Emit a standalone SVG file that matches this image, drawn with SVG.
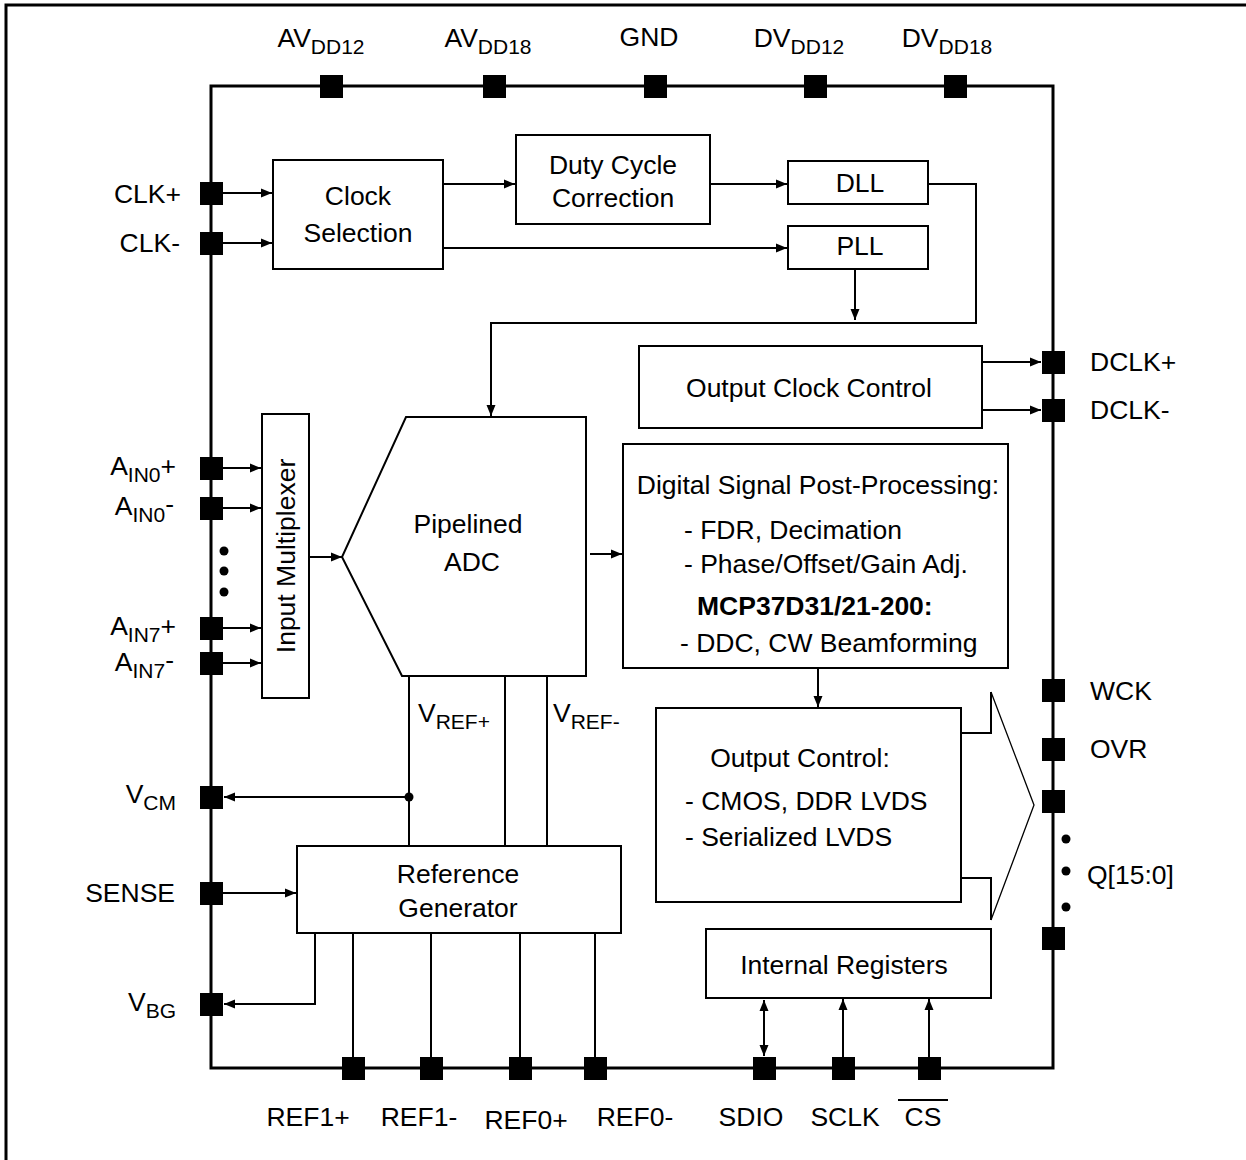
<svg xmlns="http://www.w3.org/2000/svg" width="1246" height="1160" viewBox="0 0 1246 1160">
<style>
text{font-family:"Liberation Sans",Arial,sans-serif;font-size:26.5px;fill:#000}
.sub{font-size:21px}
.box{fill:#fff;stroke:#000;stroke-width:2}
.ln{fill:none;stroke:#000;stroke-width:2}
.thin{fill:none;stroke:#000;stroke-width:1.3}
.pin{fill:#000}
.c{text-anchor:middle}
.e{text-anchor:end}
</style>
<defs>
<marker id="ah" viewBox="0 0 11 10" refX="11" refY="5" markerWidth="11" markerHeight="10" markerUnits="userSpaceOnUse" orient="auto-start-reverse">
<path d="M0,0.5 L11,5 L0,9.5 Z" fill="#000"/>
</marker>
</defs>
<rect width="1246" height="1160" fill="#fff"/>
<g id="frame">
<path d="M6,1160 V5 H1246" fill="none" stroke="#000" stroke-width="3"/>
</g>
<g id="chip">
<rect x="211" y="86" width="842" height="982" fill="none" stroke="#000" stroke-width="3"/>
</g>
<g id="connectors">
<path class="ln" d="M223,193 H272" marker-end="url(#ah)"/>
<path class="ln" d="M223,243 H272" marker-end="url(#ah)"/>
<path class="ln" d="M443,184 H515" marker-end="url(#ah)"/>
<path class="ln" d="M443,248 H787" marker-end="url(#ah)"/>
<path class="ln" d="M710,184 H787" marker-end="url(#ah)"/>
<path class="ln" d="M928,184 H976 V323 H491 V416" marker-end="url(#ah)"/>
<path class="ln" d="M855,269 V320" marker-end="url(#ah)"/>
<path class="ln" d="M982,362 H1041" marker-end="url(#ah)"/>
<path class="ln" d="M982,410 H1041" marker-end="url(#ah)"/>
<path class="ln" d="M223,468 H261" marker-end="url(#ah)"/>
<path class="ln" d="M223,508 H261" marker-end="url(#ah)"/>
<path class="ln" d="M223,628 H261" marker-end="url(#ah)"/>
<path class="ln" d="M223,663 H261" marker-end="url(#ah)"/>
<path class="ln" d="M309,557 H342" marker-end="url(#ah)"/>
<path class="ln" d="M590,554 H622" marker-end="url(#ah)"/>
<path class="ln" d="M818,668 V707" marker-end="url(#ah)"/>
<path class="ln" d="M409,677 V846"/>
<path class="ln" d="M505,677 V846"/>
<path class="ln" d="M547,677 V846"/>
<path class="ln" d="M409,797 H224" marker-end="url(#ah)"/>
<circle cx="409" cy="797" r="4.5" fill="#000"/>
<path class="ln" d="M223,893 H296" marker-end="url(#ah)"/>
<path class="ln" d="M315,933 V1004 H224" marker-end="url(#ah)"/>
<path class="ln" d="M353,933 V1068"/>
<path class="ln" d="M431,933 V1068"/>
<path class="ln" d="M520,933 V1068"/>
<path class="ln" d="M595,933 V1068"/>
<path class="ln" d="M764,1000 V1056" marker-start="url(#ah)" marker-end="url(#ah)"/>
<path class="ln" d="M843,1057 V999" marker-end="url(#ah)"/>
<path class="ln" d="M929,1057 V999" marker-end="url(#ah)"/>
<path class="ln" d="M961,733 H991 V692"/>
<path class="thin" d="M991,692 L1034,805 L991,920"/>
<path class="ln" d="M991,920 V878 H961"/>
</g>
<g id="pins">
<rect class="pin" x="320" y="75" width="23" height="23"/>
<rect class="pin" x="483" y="75" width="23" height="23"/>
<rect class="pin" x="644" y="75" width="23" height="23"/>
<rect class="pin" x="804" y="75" width="23" height="23"/>
<rect class="pin" x="944" y="75" width="23" height="23"/>
<rect class="pin" x="200" y="182" width="23" height="23"/>
<rect class="pin" x="200" y="232" width="23" height="23"/>
<rect class="pin" x="200" y="457" width="23" height="23"/>
<rect class="pin" x="200" y="497" width="23" height="23"/>
<rect class="pin" x="200" y="617" width="23" height="23"/>
<rect class="pin" x="200" y="652" width="23" height="23"/>
<rect class="pin" x="200" y="786" width="23" height="23"/>
<rect class="pin" x="200" y="882" width="23" height="23"/>
<rect class="pin" x="200" y="993" width="23" height="23"/>
<rect class="pin" x="1042" y="351" width="23" height="23"/>
<rect class="pin" x="1042" y="399" width="23" height="23"/>
<rect class="pin" x="1042" y="679" width="23" height="23"/>
<rect class="pin" x="1042" y="738" width="23" height="23"/>
<rect class="pin" x="1042" y="790" width="23" height="23"/>
<rect class="pin" x="1042" y="927" width="23" height="23"/>
<rect class="pin" x="342" y="1057" width="23" height="23"/>
<rect class="pin" x="420" y="1057" width="23" height="23"/>
<rect class="pin" x="509" y="1057" width="23" height="23"/>
<rect class="pin" x="584" y="1057" width="23" height="23"/>
<rect class="pin" x="753" y="1057" width="23" height="23"/>
<rect class="pin" x="832" y="1057" width="23" height="23"/>
<rect class="pin" x="918" y="1057" width="23" height="23"/>
<circle cx="224" cy="551" r="4.5"/>
<circle cx="224" cy="571" r="4.5"/>
<circle cx="224" cy="592" r="4.5"/>
<circle cx="1066" cy="839" r="4.5"/>
<circle cx="1066" cy="871" r="4.5"/>
<circle cx="1066" cy="907" r="4.5"/>
</g>
<g id="pin-labels">
<text x="321" y="47" class="c">AV<tspan class="sub" dy="7">DD12</tspan></text>
<text x="488" y="47" class="c">AV<tspan class="sub" dy="7">DD18</tspan></text>
<text x="649" y="46" class="c">GND</text>
<text x="799" y="47" class="c">DV<tspan class="sub" dy="7">DD12</tspan></text>
<text x="947" y="47" class="c">DV<tspan class="sub" dy="7">DD18</tspan></text>
<text x="181" y="203" class="e">CLK+</text>
<text x="180" y="252" class="e">CLK-</text>
<text x="176" y="475" class="e">A<tspan class="sub" dy="7">IN0</tspan><tspan dy="-7">+</tspan></text>
<text x="174" y="515" class="e">A<tspan class="sub" dy="7">IN0</tspan><tspan dy="-9">-</tspan></text>
<text x="176" y="635" class="e">A<tspan class="sub" dy="7">IN7</tspan><tspan dy="-7">+</tspan></text>
<text x="174" y="671" class="e">A<tspan class="sub" dy="7">IN7</tspan><tspan dy="-9">-</tspan></text>
<text x="176" y="803" class="e">V<tspan class="sub" dy="7">CM</tspan></text>
<text x="175" y="902" class="e">SENSE</text>
<text x="176" y="1011" class="e">V<tspan class="sub" dy="7">BG</tspan></text>
<text x="1090" y="371">DCLK+</text>
<text x="1090" y="419">DCLK-</text>
<text x="1090" y="700">WCK</text>
<text x="1090" y="758">OVR</text>
<text x="1087" y="884">Q[15:0]</text>
<text x="308" y="1126" class="c">REF1+</text>
<text x="419" y="1126" class="c">REF1-</text>
<text x="526" y="1129" class="c">REF0+</text>
<text x="635" y="1126" class="c">REF0-</text>
<text x="751" y="1126" class="c">SDIO</text>
<text x="845" y="1126" class="c">SCLK</text>
<text x="923" y="1126" class="c">CS</text>
<path d="M898,1100 H948" stroke="#000" stroke-width="2"/>
<text x="418" y="722">V<tspan class="sub" dy="7">REF+</tspan></text>
<text x="553" y="722">V<tspan class="sub" dy="7">REF-</tspan></text>
</g>
<g id="clock-selection">
<rect class="box" x="273" y="160" width="170" height="109"/>
<text x="358" y="205" class="c">Clock</text>
<text x="358" y="242" class="c">Selection</text>
</g>
<g id="duty-cycle">
<rect class="box" x="516" y="135" width="194" height="89"/>
<text x="613" y="174" class="c">Duty Cycle</text>
<text x="613" y="207" class="c">Correction</text>
</g>
<g id="dll">
<rect class="box" x="788" y="161" width="140" height="43"/>
<text x="860" y="192" class="c">DLL</text>
</g>
<g id="pll">
<rect class="box" x="788" y="226" width="140" height="43"/>
<text x="860" y="255" class="c">PLL</text>
</g>
<g id="output-clock-control">
<rect class="box" x="639" y="346" width="343" height="82"/>
<text x="809" y="397" class="c">Output Clock Control</text>
</g>
<g id="input-mux">
<rect class="box" x="262" y="414" width="47" height="284"/>
<text transform="translate(295,556) rotate(-90)" class="c">Input Multiplexer</text>
</g>
<g id="adc">
<path d="M406,417 H586 V676 H402 L342,557 Z" fill="#fff" stroke="#000" stroke-width="2"/>
<text x="468" y="533" class="c">Pipelined</text>
<text x="472" y="571" class="c">ADC</text>
</g>
<g id="dsp">
<rect class="box" x="623" y="444" width="385" height="224"/>
<text x="818" y="494" class="c">Digital Signal Post-Processing:</text>
<text x="684" y="539">- FDR, Decimation</text>
<text x="684" y="573">- Phase/Offset/Gain Adj.</text>
<text x="697" y="615" font-weight="bold">MCP37D31/21-200:</text>
<text x="680" y="652">- DDC, CW Beamforming</text>
</g>
<g id="output-control">
<rect class="box" x="656" y="708" width="305" height="194"/>
<text x="800" y="767" class="c">Output Control:</text>
<text x="685" y="810">- CMOS, DDR LVDS</text>
<text x="685" y="846">- Serialized LVDS</text>
</g>
<g id="reference-generator">
<rect class="box" x="297" y="846" width="324" height="87"/>
<text x="458" y="883" class="c">Reference</text>
<text x="458" y="917" class="c">Generator</text>
</g>
<g id="internal-registers">
<rect class="box" x="706" y="929" width="285" height="69"/>
<text x="844" y="974" class="c">Internal Registers</text>
</g>
</svg>
